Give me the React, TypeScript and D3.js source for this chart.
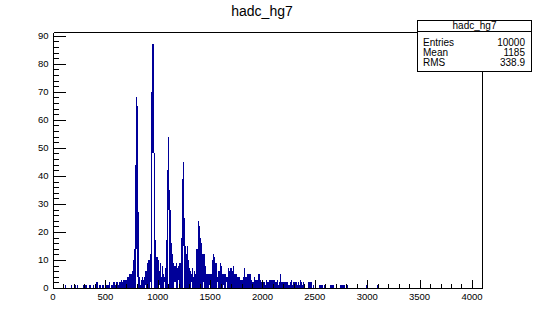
import React from 'react';
import { scaleLinear, range } from 'd3';

const TITLE = 'hadc_hg7';
const BIN_WIDTH = 10;
const X_MAX = 4096;
const Y_MAX = 91.35;
const LINE_COLOR = '#000099';
const FONT = '"Liberation Sans", Arial, Helvetica, sans-serif';

// highest count seen in each 10-channel slice, starting at channel 0
const COUNTS = [
	0, 0, 0, 0, 0, 0, 0, 0, 0, 0,
	0, 1, 0, 0, 0, 0, 0, 1, 0, 0,
	0, 1, 0, 1, 0, 0, 0, 0, 0, 1,
	1, 1, 0, 0, 1, 1, 0, 0, 1, 0,
	1, 2, 2, 0, 1, 1, 0, 1, 1, 0,
	1, 1, 1, 2, 0, 1, 1, 2, 2, 1,
	2, 2, 1, 2, 2, 3, 2, 3, 3, 3,
	3, 4, 4, 5, 5, 6, 10, 14, 44, 68,
	65, 27, 4, 1, 3, 4, 3, 4, 6, 6,
	9, 10, 10, 12, 70, 87, 48, 17, 11, 11,
	10, 6, 9, 4, 8, 5, 4, 7, 17, 42,
	54, 35, 28, 16, 12, 9, 8, 9, 7, 8,
	9, 9, 18, 39, 45, 25, 15, 12, 15, 10,
	7, 6, 5, 7, 4, 6, 5, 14, 24, 22,
	18, 16, 12, 12, 12, 8, 5, 5, 5, 5,
	5, 5, 10, 12, 11, 9, 9, 4, 6, 9,
	8, 5, 5, 5, 5, 4, 4, 7, 6, 7,
	7, 6, 8, 5, 5, 5, 4, 4, 4, 3,
	3, 4, 7, 4, 4, 5, 5, 5, 5, 3,
	2, 2, 4, 3, 3, 3, 5, 5, 3, 2,
	2, 2, 1, 3, 2, 2, 3, 3, 3, 3,
	3, 3, 2, 2, 3, 1, 2, 5, 2, 2,
	2, 2, 2, 2, 1, 1, 2, 3, 1, 2,
	2, 2, 2, 1, 2, 1, 3, 2, 1, 2,
	1, 0, 0, 2, 2, 2, 2, 0, 1, 0,
	2, 0, 0, 0, 1, 1, 1, 1, 0, 1,
	1, 0, 0, 0, 1, 1, 1, 1, 0, 0,
	1, 0, 0, 0, 1, 1, 1, 1, 1, 0,
	1, 1, 0, 0, 0, 0, 0, 0, 0, 0,
	0, 0, 0, 0, 0, 0, 0, 0, 0, 1,
	0, 0, 0, 0, 0, 0, 0, 0, 0, 1,
];

// lowest count in the busy slices (from slice 70 on); below it the column is empty
const FLOOR_START = 70;
const FLOOR = [
	0, 0, 0, 0, 0, 0, 0, 0, 0, 14,
	4, 0, 0, 0, 0, 0, 0, 0, 1, 0,
	0, 0, 0, 2, 0, 48, 0, 0, 0, 0,
	0, 1, 0, 0, 0, 0, 2, 0, 0, 0,
	28, 0, 0, 0, 0, 0, 2, 0, 0, 3,
	0, 0, 0, 0, 15, 0, 0, 0, 0, 0,
	0, 0, 2, 0, 0, 0, 0, 0, 0, 0,
	0, 0, 0, 2, 0, 0, 0, 0, 0, 1,
	0, 0, 0, 0, 0, 0, 0, 2, 0, 0,
	0, 0, 1, 0, 0, 2, 0, 0, 0, 0,
];

const X_TICKS = [0, 500, 1000, 1500, 2000, 2500, 3000, 3500, 4000];
const Y_TICKS = [0, 10, 20, 30, 40, 50, 60, 70, 80, 90];
const STAT_NAMES = ['Entries', 'Mean', 'RMS'];
const STAT_VALUES = ['10000', '1185', '338.9'];

const W = 536;
const H = 321;
const LEFT = 53;
const RIGHT = 482;
const TOP = 32;
const BOTTOM = 288;

// stats box
const BOX = { x1: 417.5, y1: 20.5, x2: 531.5, y2: 71.5, sep: 31.5 };

export default function App() {
	const x = scaleLinear().domain([0, X_MAX]).range([LEFT, RIGHT]);
	const y = scaleLinear().domain([0, Y_MAX]).range([BOTTOM, TOP]);

	const minorX = range(0, 4001, 100);
	const minorY = range(0, 91, 2);

	const floorOf = (i: number) => {
		const f = FLOOR[i - FLOOR_START];
		return f == null ? 0 : f;
	};

	return (
		<svg
			width={W}
			height={H}
			style={{ position: 'absolute', left: 0, top: 0, background: '#fff' }}
			fontFamily={FONT}
		>
			<rect width={W} height={H} fill="#fff" />
			<text x={262} y={16} fontSize={14} textAnchor="middle" fill="#000">
				{TITLE}
			</text>

			{/* histogram: one column per slice, from its lowest to its highest count */}
			<g fill={LINE_COLOR} shapeRendering="crispEdges">
				{COUNTS.map((c, i) => {
					if (c <= 0) return null;
					const lo = floorOf(i);
					return (
						<rect
							key={i}
							x={x(i * BIN_WIDTH)}
							width={x((i + 1) * BIN_WIDTH) - x(i * BIN_WIDTH)}
							y={y(c)}
							height={Math.max(1, y(lo) - y(c))}
						/>
					);
				})}
			</g>

			{/* frame */}
			<g stroke="#000" strokeWidth={1} fill="none" shapeRendering="crispEdges">
				<line x1={LEFT + 0.5} x2={LEFT + 0.5} y1={TOP + 0.5} y2={BOTTOM + 0.5} />
				<line x1={LEFT + 0.5} x2={RIGHT + 0.5} y1={BOTTOM + 0.5} y2={BOTTOM + 0.5} />
				<line x1={RIGHT + 0.5} x2={RIGHT + 0.5} y1={TOP + 0.5} y2={BOTTOM + 0.5} />
				<line x1={LEFT + 0.5} x2={RIGHT + 0.5} y1={TOP + 0.5} y2={TOP + 0.5} />
			</g>

			{/* x axis ticks */}
			<g stroke="#000" shapeRendering="crispEdges">
				{minorX.map((v) => {
					const major = v % 500 === 0;
					const px = Math.round(x(v)) + 0.5;
					return (
						<line
							key={v}
							x1={px}
							x2={px}
							y1={BOTTOM}
							y2={BOTTOM - (major ? 7.7 : 3.85)}
						/>
					);
				})}
			</g>
			<g fontSize={9.5} textAnchor="middle" fill="#000">
				{X_TICKS.map((v) => (
					<text key={v} x={x(v)} y={300}>
						{v}
					</text>
				))}
			</g>

			{/* y axis ticks */}
			<g stroke="#000" shapeRendering="crispEdges">
				{minorY.map((v) => {
					const major = v % 10 === 0;
					const py = Math.round(y(v)) + 0.5;
					return (
						<line
							key={v}
							x1={LEFT}
							x2={LEFT + (major ? 12.9 : 6.4)}
							y1={py}
							y2={py}
						/>
					);
				})}
			</g>
			<g fontSize={9.5} textAnchor="end" fill="#000">
				{Y_TICKS.map((v) => (
					<text key={v} x={48.5} y={y(v) + 3.4}>
						{v}
					</text>
				))}
			</g>

			{/* stats box */}
			<g shapeRendering="crispEdges">
				<rect
					x={BOX.x1}
					y={BOX.y1}
					width={BOX.x2 - BOX.x1}
					height={BOX.y2 - BOX.y1}
					fill="#fff"
					stroke="#000"
				/>
				<line x1={BOX.x1} x2={BOX.x2} y1={BOX.sep} y2={BOX.sep} stroke="#000" />
			</g>
			<g fontSize={10} fill="#000">
				<text x={(BOX.x1 + BOX.x2) / 2} y={29} textAnchor="middle">
					{TITLE}
				</text>
				{STAT_NAMES.map((n, i) => (
					<text key={n} x={423} y={45.5 + i * 10.3}>
						{n}
					</text>
				))}
				{STAT_VALUES.map((v, i) => (
					<text key={v} x={525} y={45.5 + i * 10.3} textAnchor="end">
						{v}
					</text>
				))}
			</g>
		</svg>
	);
}
